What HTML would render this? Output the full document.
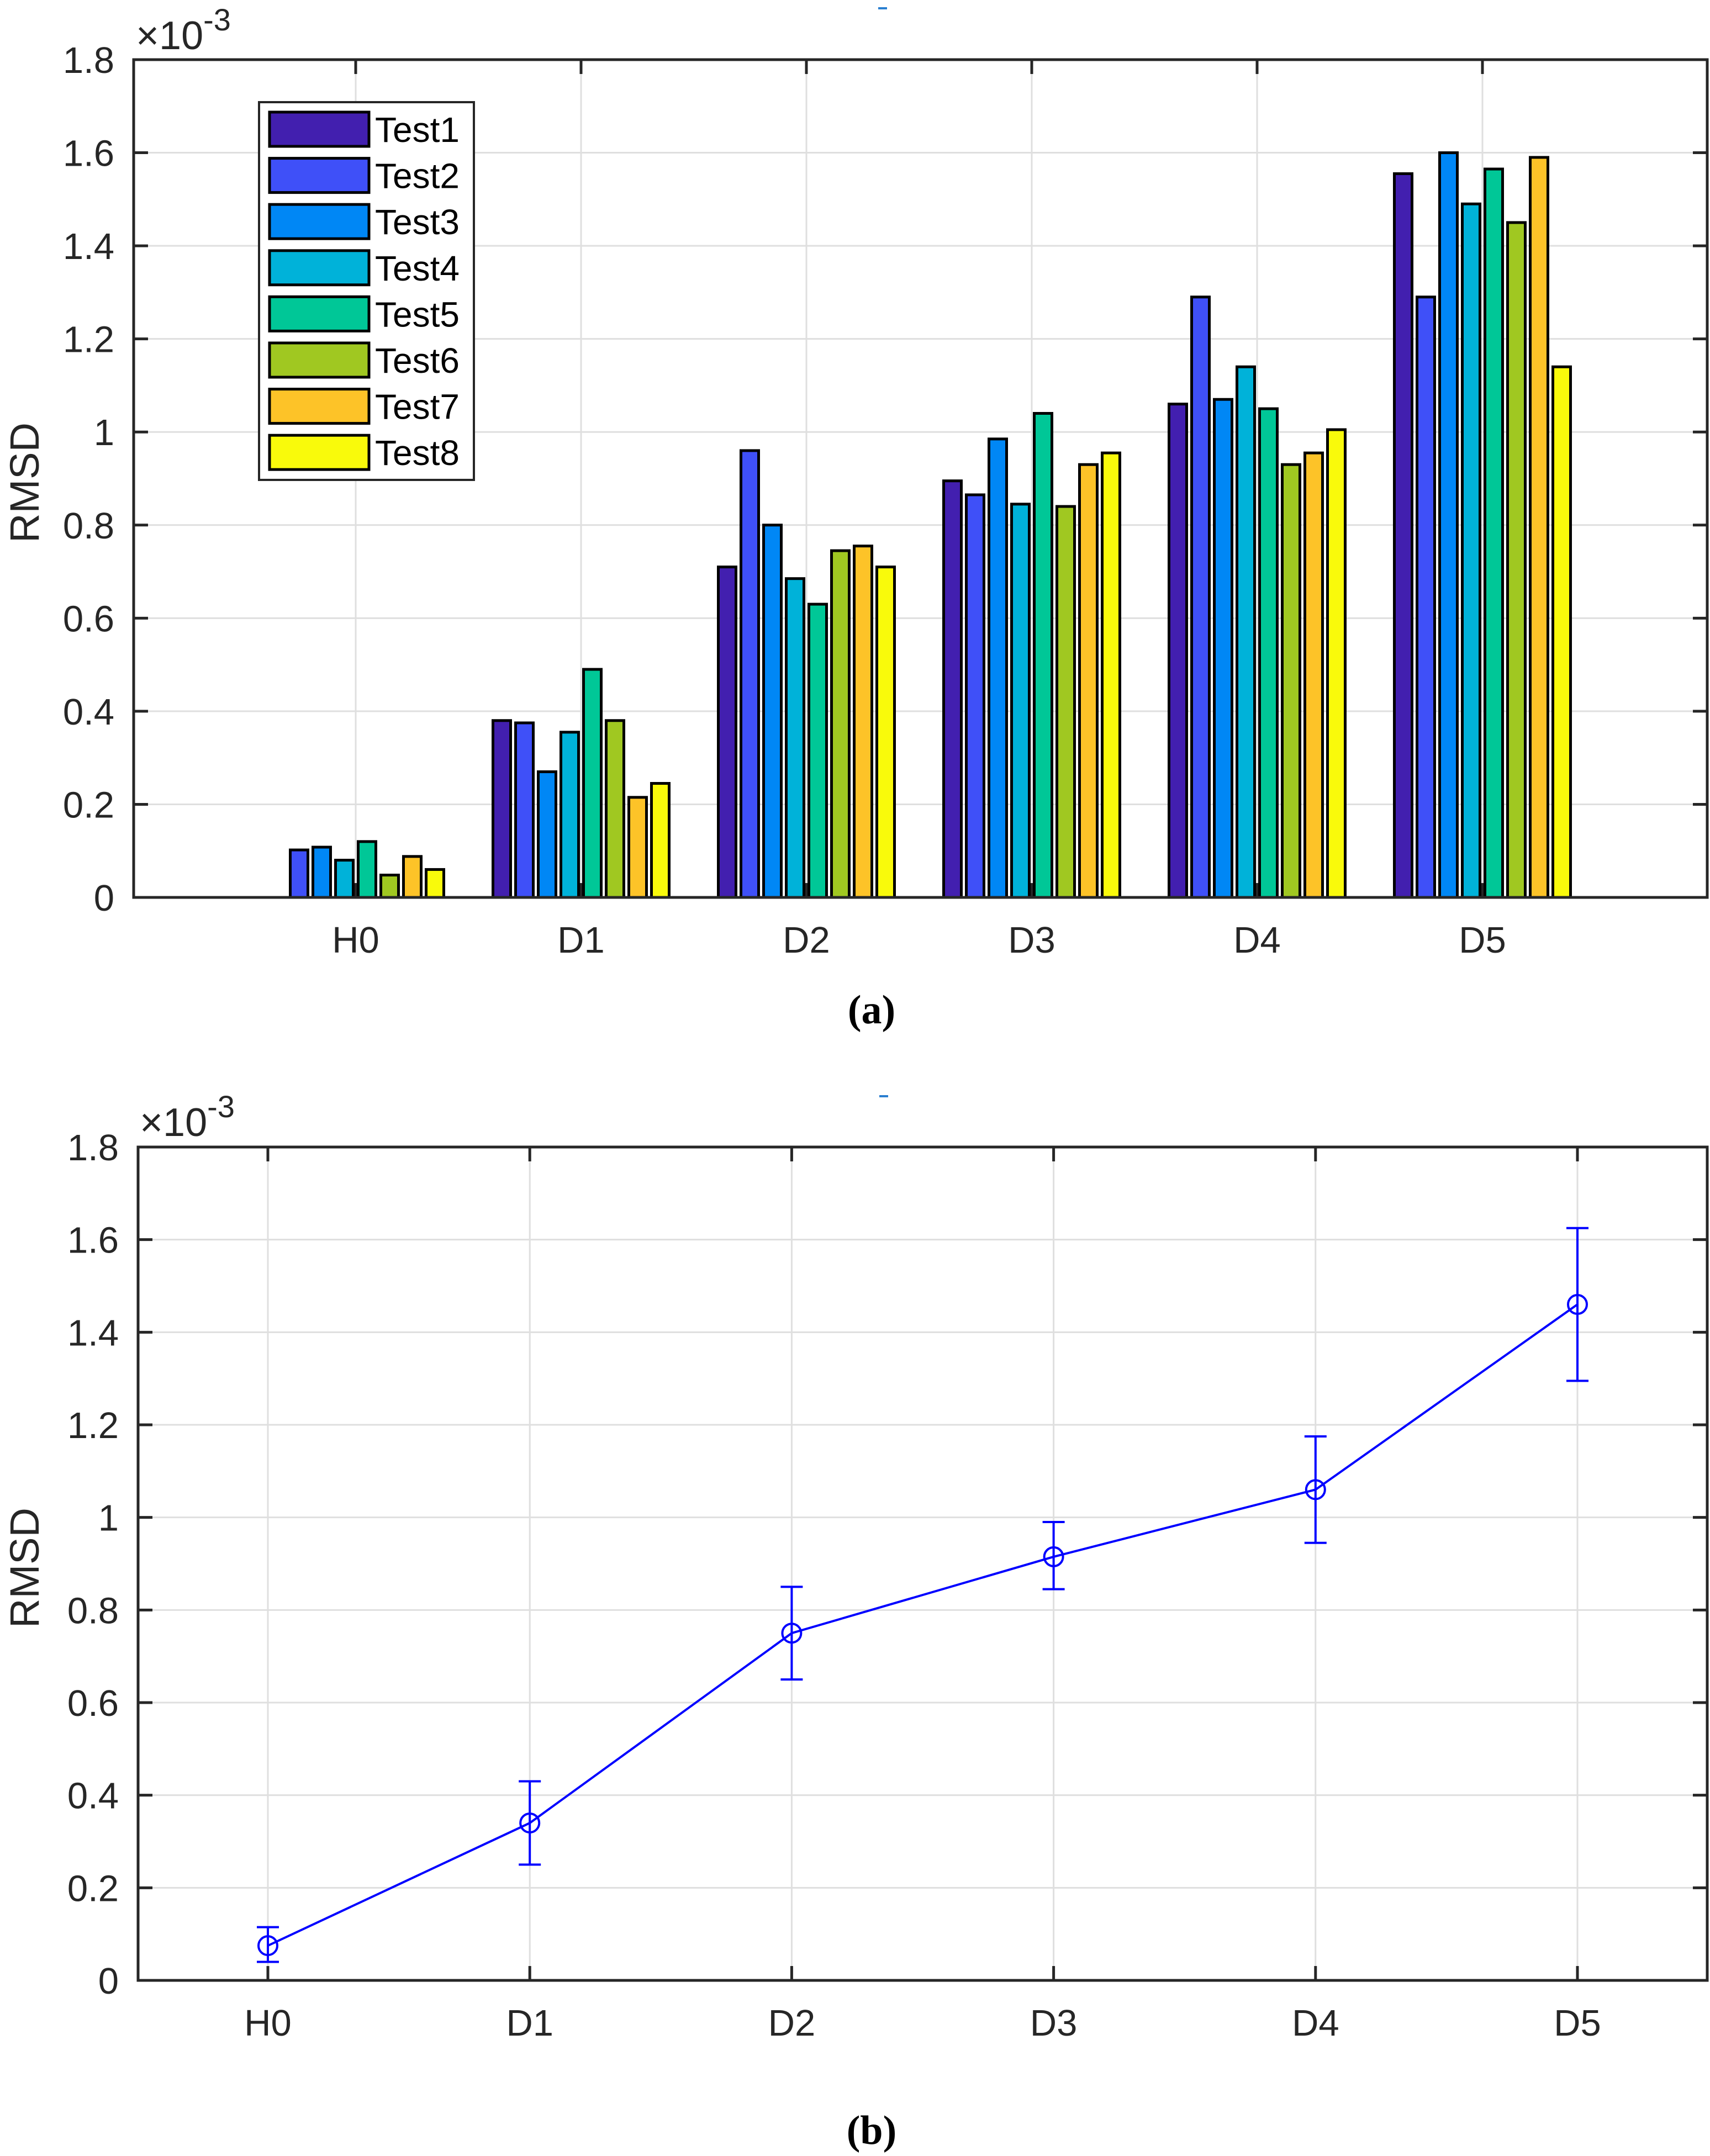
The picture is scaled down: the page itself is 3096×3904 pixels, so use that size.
<!DOCTYPE html>
<html><head><meta charset="utf-8"><style>
html,body{margin:0;padding:0;background:#fff}
svg{display:block}
text{font-family:"Liberation Sans",sans-serif;fill:#262626}
</style></head><body>
<svg id="fig" width="3096" height="3904" viewBox="0 0 3096 3904" xmlns="http://www.w3.org/2000/svg">
<rect width="3096" height="3904" fill="#fff"/>
<g id="chartA"></g>
<g id="chartB"></g>
<text x="1578" y="1853" font-size="74" font-weight="bold" text-anchor="middle" style="font-family:'Liberation Serif',serif;fill:#000">(a)</text>
<text x="1578" y="3882" font-size="74" font-weight="bold" text-anchor="middle" style="font-family:'Liberation Serif',serif;fill:#000">(b)</text>
</svg>
<script>
const categories = ["H0","D1","D2","D3","D4","D5"];
const seriesNames = ["Test1","Test2","Test3","Test4","Test5","Test6","Test7","Test8"];
const test1 = [0, 0.38, 0.71, 0.895, 1.06, 1.555];
const test2 = [0.102, 0.375, 0.96, 0.865, 1.29, 1.29];
const test3 = [0.108, 0.27, 0.80, 0.985, 1.07, 1.60];
const test4 = [0.08, 0.355, 0.685, 0.845, 1.14, 1.49];
const test5 = [0.12, 0.49, 0.63, 1.04, 1.05, 1.565];
const test6 = [0.048, 0.38, 0.745, 0.84, 0.93, 1.45];
const test7 = [0.088, 0.215, 0.755, 0.93, 0.955, 1.59];
const test8 = [0.06, 0.245, 0.71, 0.955, 1.005, 1.14];
const yTicks = [0, 0.2, 0.4, 0.6, 0.8, 1, 1.2, 1.4, 1.6, 1.8];
const yTickLabels = ["0","0.2","0.4","0.6","0.8","1","1.2","1.4","1.6","1.8"];
const meanValues = [0.075, 0.34, 0.75, 0.915, 1.06, 1.46];
const upperValues = [0.115, 0.43, 0.85, 0.99, 1.175, 1.625];
const lowerValues = [0.04, 0.25, 0.65, 0.845, 0.945, 1.295];

const NS = "http://www.w3.org/2000/svg";
const colors = ["#421FAF","#3F50F8","#0087F5","#00B2D9","#00C797","#A0C821","#FDC328","#F9FA0B"];
const allSeries = [test1,test2,test3,test4,test5,test6,test7,test8];
function mk(parent, tag, attrs){
  const e = document.createElementNS(NS, tag);
  for (const k in attrs) e.setAttribute(k, attrs[k]);
  parent.appendChild(e);
  return e;
}
function drawAxes(g, L, R, T, B, yScale, xScale, xTickOffset){
  yTicks.forEach((v,i)=>{
    const y = yScale(v);
    if (i>0 && i<yTicks.length-1){
      const gl = mk(g,"line",{x1:L,x2:R,y1:y,y2:y,stroke:"#dfdfdf","stroke-width":3});
      
      
    }
    const tk = mk(g,"line",{x1:L,x2:L+26,y1:y,y2:y,stroke:"#262626","stroke-width":5});
    
    
    const tk2 = mk(g,"line",{x1:R-26,x2:R,y1:y,y2:y,stroke:"#262626","stroke-width":5});
    
    
    const t = mk(g,"text",{x:L-35,y:y+24,"font-size":67,"text-anchor":"end"});
    t.textContent = yTickLabels[i];
    
    
  });
  categories.forEach((c,i)=>{
    const x = xScale(i);
    const gl = mk(g,"line",{x1:x,x2:x,y1:T,y2:B,stroke:"#dfdfdf","stroke-width":3});
    
    
    const tk = mk(g,"line",{x1:x,x2:x,y1:B-26,y2:B,stroke:"#262626","stroke-width":5});
    
    
    const tk2 = mk(g,"line",{x1:x,x2:x,y1:T,y2:T+26,stroke:"#262626","stroke-width":5});
    
    
    const t = mk(g,"text",{x:x,y:B+xTickOffset,"font-size":67,"text-anchor":"middle"});
    t.textContent = c;
    
    
  });
}
function frame(g,L,R,T,B){
  const f = mk(g,"rect",{x:L,y:T,width:R-L,height:B-T,fill:"none",stroke:"#262626","stroke-width":5});
  
  
}
function exponent(g,x,y){
  const t = mk(g,"text",{x:x,y:y,"font-size":72});
  t.innerHTML = '×10<tspan dy="-34" font-size="56">-3</tspan>';
  
  
}
function ylabel(g,x,y){
  const t = mk(g,"text",{x:x,y:y,"font-size":74,"text-anchor":"middle",transform:`rotate(-90 ${x} ${y})`});
  t.textContent = "RMSD";
  
  
}

(function(){
  const g = document.getElementById("chartA");
  const L=242,R=3091,T=108,B=1625;
  const ys = v => B - v/1.8*(B-T);
  const xs = i => 644 + i*408;
  drawAxes(g,L,R,T,B,ys,xs,100);
  const pitch=41, bw=32;
  allSeries.forEach((s,k)=>{
    s.forEach((v,i)=>{
      if (v<=0) return;
      const cx = xs(i) + (k-3.5)*pitch;
      const r = mk(g,"rect",{x:cx-bw/2,y:ys(v),width:bw,height:B-ys(v),fill:colors[k],stroke:"#000","stroke-width":5});
      
      
    });
  });
  frame(g,L,R,T,B);
  exponent(g,246,89);
  ylabel(g,70,874);
  const lg = mk(g,"g",{});
  
  
  mk(lg,"rect",{x:469,y:185,width:389,height:684,fill:"#fff",stroke:"#262626","stroke-width":4});
  seriesNames.forEach((n,k)=>{
    const cy = 234 + k*83.6;
    const sw = mk(lg,"rect",{x:488,y:cy-31,width:180,height:62,fill:colors[k],stroke:"#000","stroke-width":5});
    
    
    const t = mk(lg,"text",{x:679,y:cy+23,"font-size":64,style:"fill:#000"});
    t.textContent = n;
    
    
  });
  const m = mk(g,"rect",{x:1590,y:13,width:16,height:4,fill:"#2a7fd0"});
  
  
})();

(function(){
  const g = document.getElementById("chartB");
  const L=250,R=3091,T=2077,B=3586;
  const ys = v => B - v/1.8*(B-T);
  const xs = i => 485 + i*474.2;
  drawAxes(g,L,R,T,B,ys,xs,100);
  const pts = meanValues.map((v,i)=>xs(i)+","+ys(v)).join(" ");
  const pl = mk(g,"polyline",{points:pts,fill:"none",stroke:"#0000FF","stroke-width":4});
  
  
  meanValues.forEach((v,i)=>{
    const x = xs(i);
    const eb = mk(g,"path",{d:`M${x},${ys(upperValues[i])}V${ys(lowerValues[i])}M${x-20},${ys(upperValues[i])}H${x+20}M${x-20},${ys(lowerValues[i])}H${x+20}`,stroke:"#0000FF","stroke-width":4,fill:"none"});
    
    
    const c = mk(g,"circle",{cx:x,cy:ys(v),r:17,fill:"none",stroke:"#0000FF","stroke-width":4});
    
    
  });
  frame(g,L,R,T,B);
  exponent(g,253,2057);
  ylabel(g,70,2839);
  const m = mk(g,"rect",{x:1592,y:1983,width:16,height:4,fill:"#2a7fd0"});
  
  
})();
</script>
</body></html>
